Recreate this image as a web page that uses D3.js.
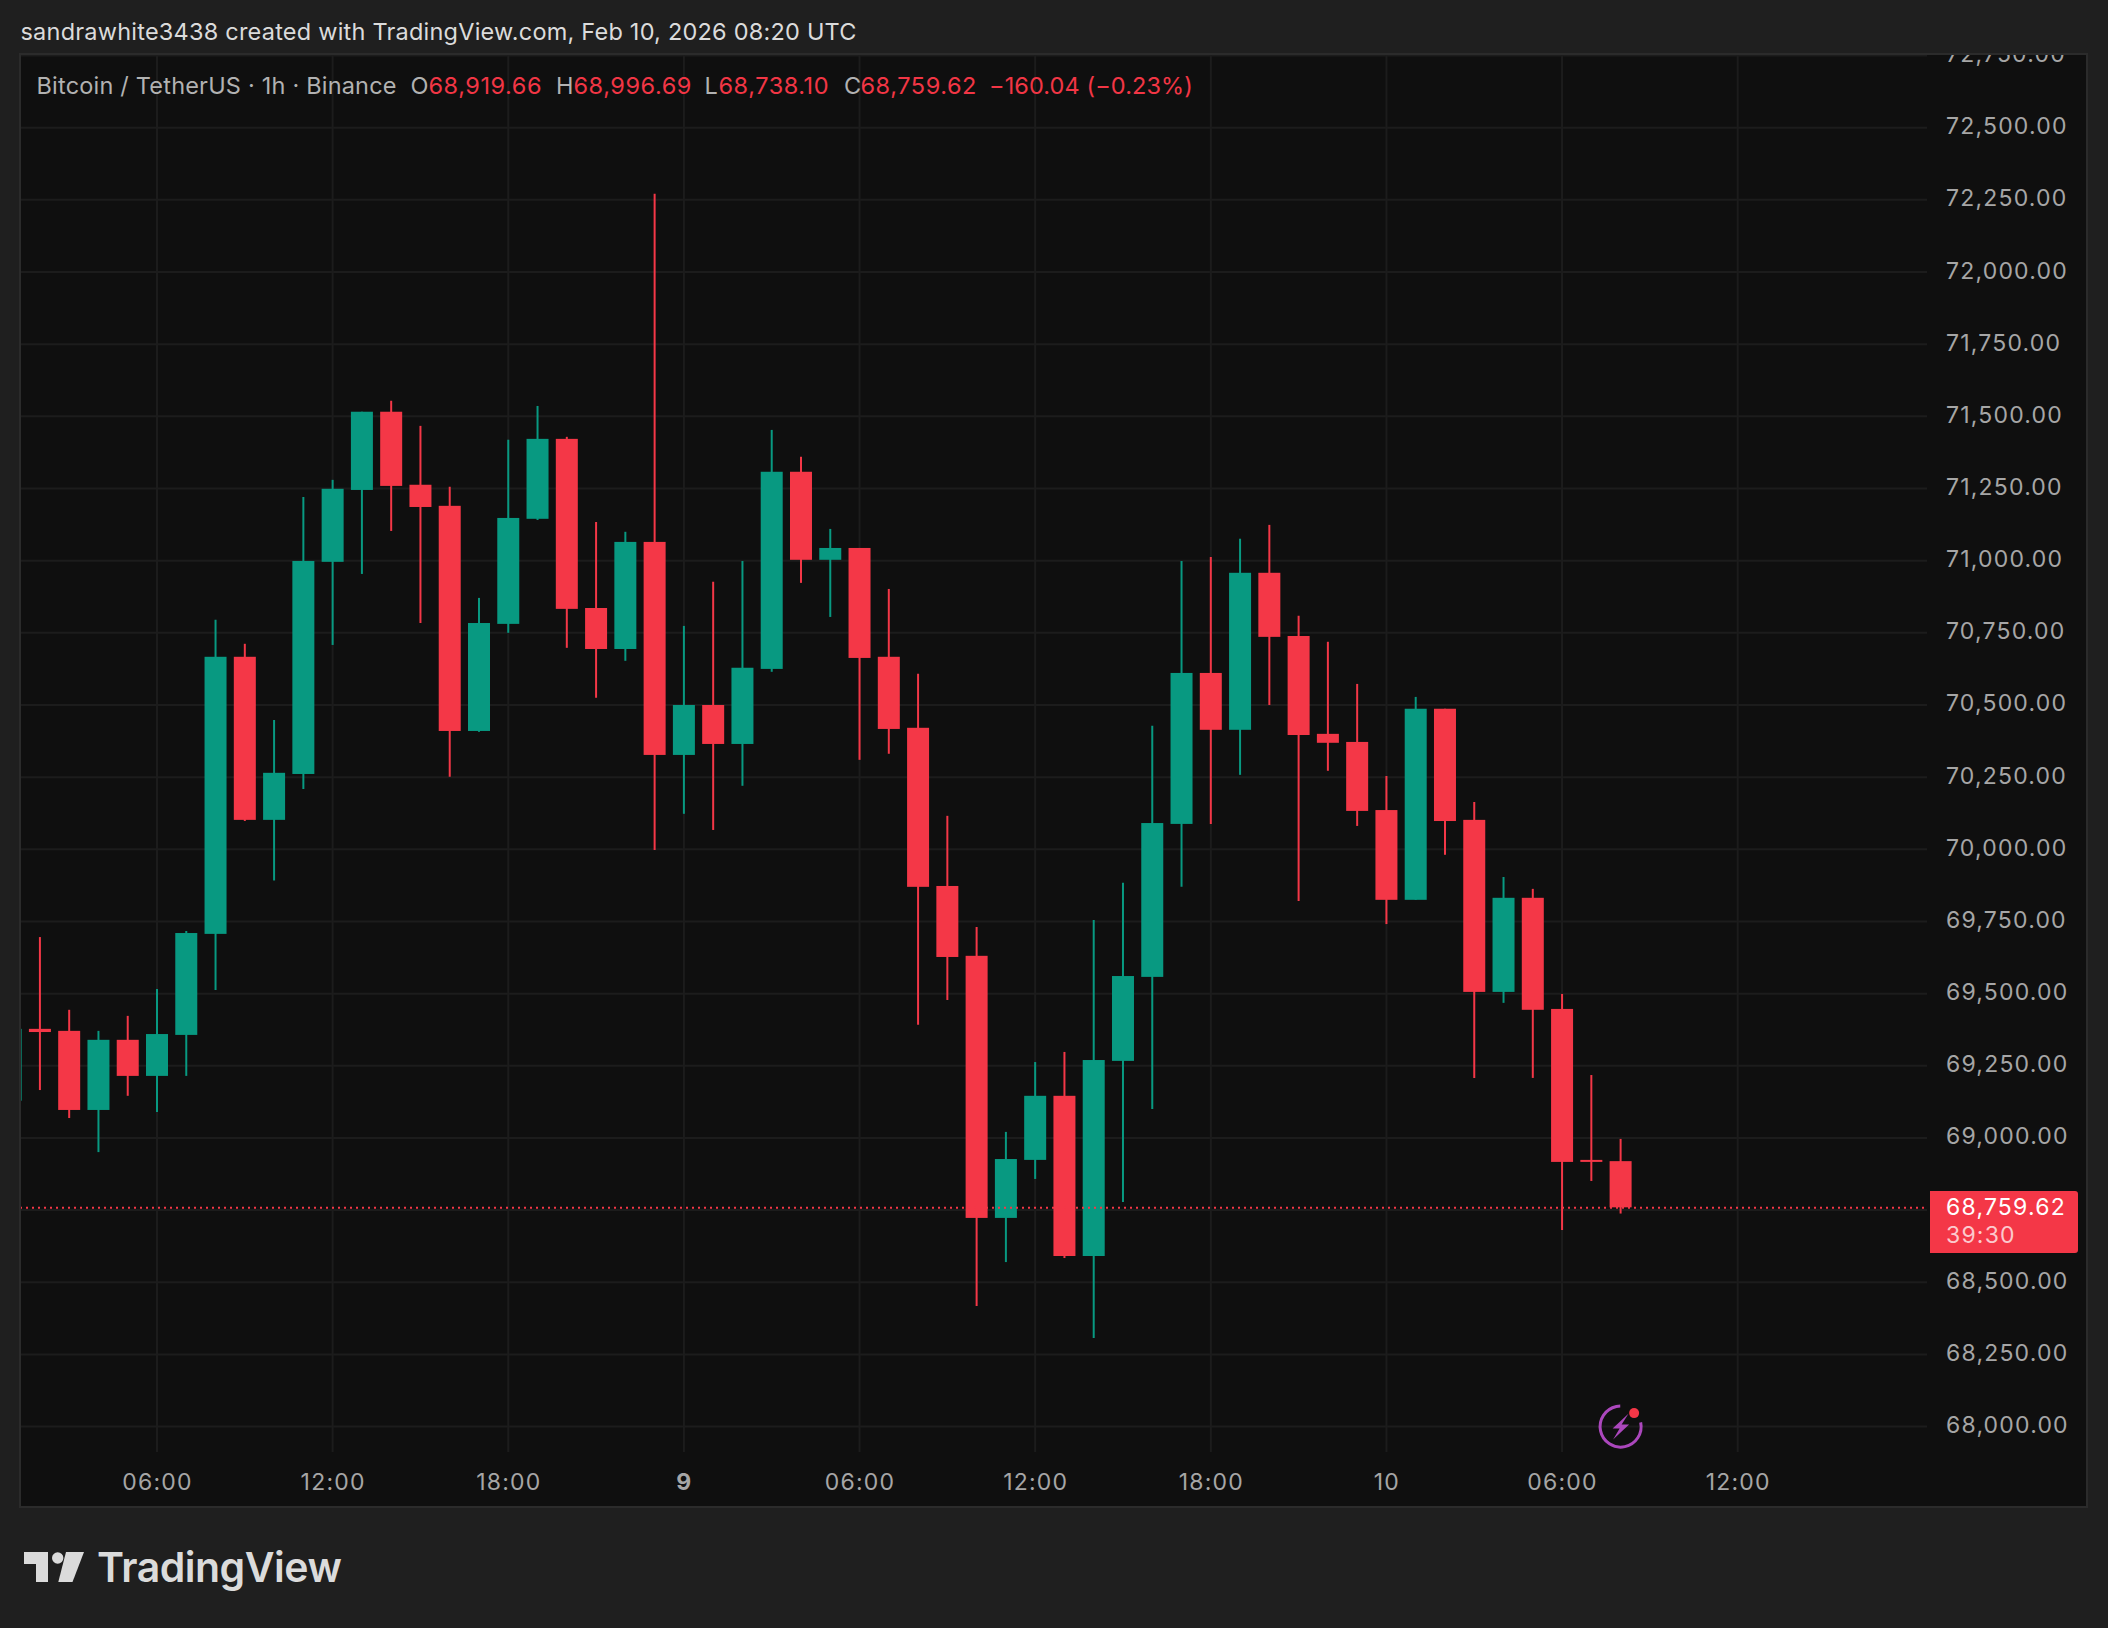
<!DOCTYPE html>
<html>
<head>
<meta charset="utf-8">
<script src="https://cdn.jsdelivr.net/npm/d3@7"></script>
<style>
html, body { margin: 0; padding: 0; background: #1f1f1f; }
svg { display: block; }
text { font-family: "Inter", "Roboto", sans-serif; }
</style>
</head>
<body>
<svg width="2108" height="1628"></svg>
<script>
// hourly candles, Feb 8 01:00 to Feb 10 08:00 UTC
const firstCandle = Date.UTC(2026, 1, 8, 1);
const opens = [69129,69378,69371,69097,69340,69215,69357,69707,70667,70102,70261,70996,71245,71516,71263,71190,70410,70781,71145,71422,70836,70694,71065,70327,70500,70365,70625,71308,71003,71044,70667,70421,69873,69631,68723,68924,69146,68591,69267,69558,70088,70611,70414,70958,70739,70400,70372,70136,69825,70487,70102,69506,69832,69447,68924,68919.66];
const highs = [69380,69696,69444,69371,69423,69516,69717,70795,70712,70448,71221,71280,71516,71554,71467,71256,70871,71419,71536,71429,71134,71100,72271,70774,70927,70999,71453,71360,71110,71044,70902,70608,70116,69731,69021,69263,69298,69755,69884,70428,70999,71013,71076,71124,70809,70719,70573,70254,70528,70487,70164,69904,69863,69499,69218,68996.69];
const lows = [69125,69166,69069,68951,69146,69090,69215,69513,70098,69892,70209,70708,70954,71103,70784,70251,70407,70750,71141,70698,70525,70653,69998,70123,70067,70220,70615,70923,70805,70310,70331,69392,69478,68418,68570,68858,68584,68307,68778,69100,69870,70088,70258,70500,69821,70272,70081,69741,69825,69981,69208,69468,69208,68681,68851,68738.10];
const closes = [69378,69367,69097,69340,69215,69360,69710,70667,70102,70265,70999,71249,71516,71259,71186,70410,70784,71148,71422,70833,70694,71065,70327,70500,70365,70629,71308,71003,71044,70663,70417,69870,69627,68723,68927,69146,68591,69270,69561,70091,70611,70414,70958,70736,70396,70369,70133,69825,70487,70098,69506,69832,69444,68917,68917,68759.62];

const priceTicks = [68000,68250,68500,68750,69000,69250,69500,69750,70000,70250,70500,70750,71000,71250,71500,71750,72000,72250,72500,72750];
const priceLabelSkip = [68750]; // hidden behind the last price tag
const timeTicks = [
  Date.UTC(2026,1,8,6), Date.UTC(2026,1,8,12), Date.UTC(2026,1,8,18), Date.UTC(2026,1,9,0), Date.UTC(2026,1,9,6),
  Date.UTC(2026,1,9,12), Date.UTC(2026,1,9,18), Date.UTC(2026,1,10,0), Date.UTC(2026,1,10,6), Date.UTC(2026,1,10,12)
];
const timeLabels = ["06:00","12:00","18:00","9","06:00","12:00","18:00","10","06:00","12:00"];
const boldTimeLabels = ["9"];

const titleText = "sandrawhite3438 created with TradingView.com, Feb 10, 2026 08:20 UTC";
const legendParts = [
  ["Bitcoin / TetherUS · 1h · Binance", 36.5, "#b2b2b2", 0.2],
  ["O", 410.5, "#b2b2b2", 0], ["68,919.66", 428.5, "#f23645", 0.55],
  ["H", 556, "#b2b2b2", 0], ["68,996.69", 573.5, "#f23645", 0.55],
  ["L", 704.5, "#b2b2b2", 0], ["68,738.10", 718.5, "#f23645", 0.55],
  ["C", 844, "#b2b2b2", 0], ["68,759.62", 860.5, "#f23645", 0.55],
  ["−160.04 (−0.23%)", 989, "#f23645", 0.1]
];

const upColor = "#089981", downColor = "#f43747";
const gridColor = "#1c1c1c", borderColor = "#2b2b2b";
const panel = { left: 20, top: 54, right: 2087, bottom: 1507 };
const plot = { right: 1927, bottom: 1452 };
const axisFont = "23px", axisTrack = "1.2px";

const svg = d3.select("svg");

const x = d3.scaleUtc()
  .domain([timeTicks[0], timeTicks[timeTicks.length - 1]])
  .range([157, 1737.7]);
const y = d3.scaleLinear()
  .domain([68000, 72500])
  .range([1426.6, 127.7]);

// panel
svg.append("rect")
  .attr("width", 2108).attr("height", 1628).attr("fill", "#1f1f1f");
svg.append("rect")
  .attr("x", panel.left).attr("y", panel.top)
  .attr("width", panel.right - panel.left).attr("height", panel.bottom - panel.top)
  .attr("fill", "#0f0f0f").attr("stroke", borderColor).attr("stroke-width", 2);

const defs = svg.append("defs");
defs.append("clipPath").attr("id", "plotClip").append("rect")
  .attr("x", panel.left + 1).attr("y", panel.top + 1)
  .attr("width", plot.right - panel.left - 1).attr("height", plot.bottom - panel.top - 1);
defs.append("clipPath").attr("id", "panelClip").append("rect")
  .attr("x", panel.left + 1).attr("y", panel.top + 1)
  .attr("width", panel.right - panel.left - 2).attr("height", panel.bottom - panel.top - 2);

// grid
const grid = svg.append("g").attr("clip-path", "url(#plotClip)");
grid.selectAll(".h").data(priceTicks).join("line")
  .attr("x1", panel.left).attr("x2", plot.right)
  .attr("y1", d => y(d)).attr("y2", d => y(d))
  .attr("stroke", gridColor).attr("stroke-width", 2);
grid.selectAll(".v").data(timeTicks).join("line")
  .attr("x1", d => x(d)).attr("x2", d => x(d))
  .attr("y1", panel.top).attr("y2", plot.bottom)
  .attr("stroke", gridColor).attr("stroke-width", 2);

// candles
const candles = opens.map((o, i) => ({
  t: firstCandle + i * 3600000, o, h: highs[i], l: lows[i], c: closes[i]
}));
const colorOf = d => d.c >= d.o ? upColor : downColor;
const bodyW = 22;

const marks = svg.append("g").attr("clip-path", "url(#plotClip)");
marks.selectAll("line.wick").data(candles).join("line")
  .attr("class", "wick")
  .attr("x1", d => x(d.t)).attr("x2", d => x(d.t))
  .attr("y1", d => y(d.h)).attr("y2", d => y(d.l))
  .attr("stroke", colorOf).attr("stroke-width", 2);
marks.selectAll("rect.body").data(candles).join("rect")
  .attr("class", "body")
  .attr("x", d => x(d.t) - bodyW / 2)
  .attr("width", bodyW)
  .attr("y", d => y(Math.max(d.o, d.c)))
  .attr("height", d => Math.max(2, Math.abs(y(d.o) - y(d.c))))
  .attr("fill", colorOf);

// last price line
const lastClose = closes[closes.length - 1];
marks.append("line")
  .attr("x1", panel.left).attr("x2", plot.right - 2)
  .attr("y1", y(lastClose) + 0.5).attr("y2", y(lastClose) + 0.5)
  .attr("stroke", downColor).attr("stroke-width", 2)
  .attr("stroke-dasharray", "2,4");

// price axis
const priceAxis = svg.append("g")
  .attr("clip-path", "url(#panelClip)")
  .append("g")
  .attr("transform", `translate(${plot.right},0)`)
  .call(d3.axisRight(y)
    .tickValues(priceTicks.filter(d => !priceLabelSkip.includes(d)))
    .tickFormat(d3.format(",.2f"))
    .tickSize(0).tickPadding(19));
priceAxis.select(".domain").remove();
priceAxis.selectAll("text")
  .attr("dy", "0.26em")
  .style("font-size", axisFont).style("letter-spacing", axisTrack)
  .attr("fill", "#a6a6a6");

// time axis
const timeAxis = svg.append("g")
  .attr("transform", `translate(0,${plot.bottom})`)
  .call(d3.axisBottom(x)
    .tickValues(timeTicks)
    .tickFormat((d, i) => timeLabels[i])
    .tickSize(0));
timeAxis.select(".domain").remove();
timeAxis.selectAll("text")
  .attr("y", 38).attr("dy", 0)
  .style("font-size", axisFont).style("letter-spacing", axisTrack)
  .style("font-weight", d => boldTimeLabels.includes(timeLabels[timeTicks.indexOf(+d)]) ? 700 : 400)
  .attr("fill", "#a6a6a6");

// last price tag
const tagX = plot.right + 3, tagTop = 1191, tagBottom = 1253, tagRight = 2078;
svg.append("path")
  .attr("d", `M${tagX},${tagTop}H${tagRight - 3}Q${tagRight},${tagTop} ${tagRight},${tagTop + 3}V${tagBottom - 3}Q${tagRight},${tagBottom} ${tagRight - 3},${tagBottom}H${tagX}Z`)
  .attr("fill", downColor);
svg.append("text").attr("x", 1946).attr("y", 1215)
  .attr("fill", "#ffffff")
  .style("font-size", axisFont).style("letter-spacing", axisTrack)
  .text(d3.format(",.2f")(lastClose));
svg.append("text").attr("x", 1946).attr("y", 1243)
  .attr("fill", "#fcc9cd")
  .style("font-size", axisFont).style("letter-spacing", axisTrack)
  .text("39:30");

// header and legend
svg.append("text").attr("x", 20.5).attr("y", 40)
  .attr("fill", "#dbdbdb").style("font-size", "23.5px").style("letter-spacing", "0.22px")
  .text(titleText);
svg.selectAll("text.legend").data(legendParts).join("text")
  .attr("class", "legend")
  .attr("x", d => d[1]).attr("y", 94)
  .attr("fill", d => d[2]).style("font-size", "23.5px")
  .style("letter-spacing", d => d[3] + "px")
  .text(d => d[0]);

// event mark under the last candle
const ev = svg.append("g").attr("transform", `translate(${x(Date.UTC(2026,1,10,8))},${y(68000)})`);
ev.append("circle").attr("r", 20.5)
  .attr("fill", "none").attr("stroke", "#ab47bc").attr("stroke-width", 3)
  .attr("stroke-dasharray", "100,29").attr("transform", "rotate(-12)");
ev.append("path")
  .attr("d", "M8,-13 L-8,2 L-1,2 L-7.5,13 L8.5,-2 L1,-2 Z")
  .attr("fill", "#ab47bc");
ev.append("circle").attr("cx", 13.5).attr("cy", -13.5).attr("r", 5).attr("fill", downColor);

// logo
const logo = svg.append("g").attr("fill", "#dbdbdb");
logo.append("path").attr("d", "M24,1552H48V1582H36V1564H24Z");
logo.append("circle").attr("cx", 57.7).attr("cy", 1558).attr("r", 5.7);
logo.append("path").attr("d", "M66,1552H84L72.5,1582H58.3Z");
logo.append("text").attr("x", 97).attr("y", 1582)
  .style("font-size", "41px").style("font-weight", 600)
  .style("letter-spacing", "-0.5px")
  .text("TradingView");
</script>
</body>
</html>
